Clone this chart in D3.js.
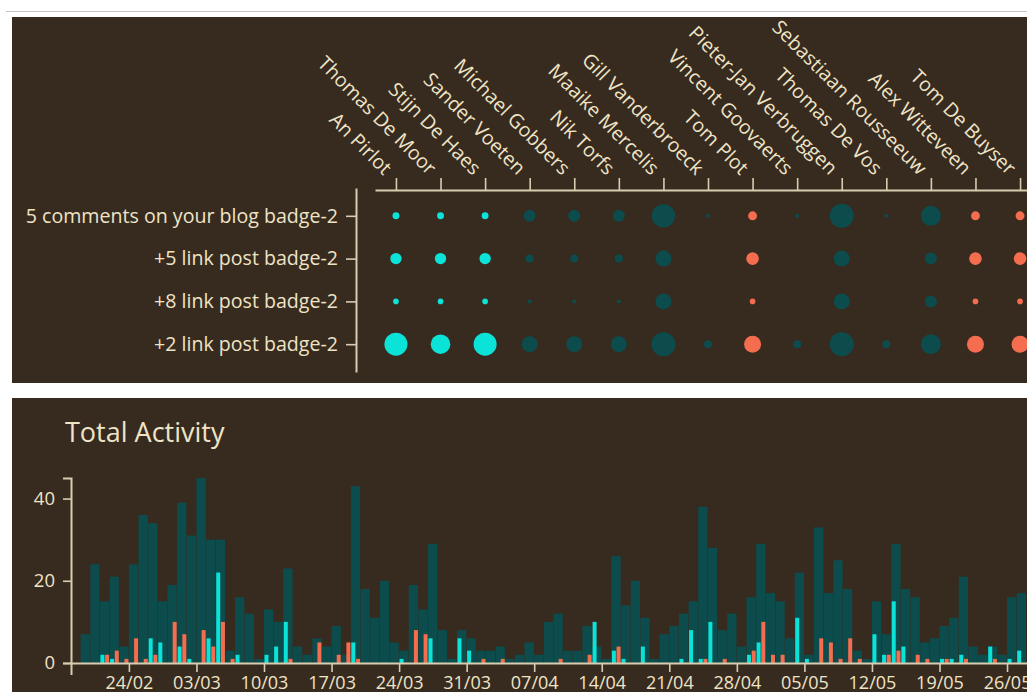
<!DOCTYPE html>
<html><head><meta charset="utf-8">
<script src="https://cdn.jsdelivr.net/npm/d3@7"></script>
<style>
html,body{margin:0;padding:0;background:#fff;overflow:hidden;}
svg{position:absolute;left:0;top:0;}
text{font-family:"Open Sans",sans-serif;}
</style></head><body>
<svg id="chart" width="1100" height="695"></svg>
<script>
// ---------- data ----------
const people = ["An Pirlot","Thomas De Moor","Stijn De Haes","Sander Voeten","Michael Gobbers","Nik Torfs",
  "Maaike Mercelis","Gill Vanderbroeck","Tom Plot","Vincent Goovaerts","Pieter-Jan Verbruggen",
  "Thomas De Vos","Sebastiaan Rousseeuw","Alex Witteveen","Tom De Buyser"];
const badges = ["5 comments on your blog badge-2","+5 link post badge-2","+8 link post badge-2","+2 link post badge-2"];
const badgeComments5 = [3,3,3,9,9,9,34,1,5,1,36,1,25,5,5];
const badgeLink5     = [8,8,8,4,4,4,16,0,10,0,16,0,9,10,10];
const badgeLink8     = [2,2,2,1,1,1,16,0,2,0,16,0,9,2,2];
const badgeLink2     = [33,24,33,16,16,16,36,4,18,4,36,4,25,18,18];
const badgeCounts = [badgeComments5, badgeLink5, badgeLink8, badgeLink2];
const teamCyan = ["An Pirlot","Thomas De Moor","Stijn De Haes"];
const teamSalmon = ["Tom Plot","Alex Witteveen","Tom De Buyser"];

const firstDay = "2013-02-19";
const totalActivity = [7,24,15,21,4,24,36,34,15,19,39,31,45,30,30,3,16,12,1,13,10,23,4,2,6,4,9,2,43,18,
  11,20,5,3,19,13,29,8,1,8,6,3,3,4,1,2,5,2,10,12,3,3,9,4,1,26,14,20,11,1,
  7,9,12,15,38,28,8,12,4,16,29,17,15,6,22,2,33,17,25,18,3,1,15,7,29,18,16,5,6,9,
  11,21,4,2,4,2,16,17];
const cyanActivity = [0,0,2,1,0,0,0,6,5,0,4,1,0,6,22,0,2,0,0,2,4,10,0,0,0,0,0,0,5,0,
  0,0,0,1,0,0,6,0,0,6,3,0,0,0,0,0,0,0,0,0,0,0,0,10,0,3,1,0,4,0,
  0,0,1,8,1,10,0,0,0,2,5,0,0,0,11,1,0,0,0,0,0,0,7,2,15,4,0,0,0,1,
  1,2,0,0,4,0,1,3];
const salmonActivity = [0,0,2,3,1,6,1,2,0,10,7,0,8,4,10,1,0,0,0,0,0,1,0,0,5,0,2,5,1,0,
  0,0,0,0,8,7,0,0,0,0,0,1,0,1,0,0,0,0,0,1,0,0,2,0,0,4,0,0,0,0,
  0,0,0,0,1,0,1,0,0,3,10,2,2,0,0,0,6,5,1,6,1,0,0,2,3,0,2,1,0,1,
  0,1,0,0,1,0,0,0];
const activityTicks = [0,20,40];
const axisStart = "2013-02-18", axisEnd = "2013-06-03";

// ---------- style ----------
const BG = "#372a1f", TEAL = "#0c4c4d", CYAN = "#0ce3d8", SALMON = "#f56d4f", CREAM = "#efe4c6", AX = "#d8cdb0";

const svg = d3.select("#chart");
svg.append("line").attr("x1",6).attr("x2",1100).attr("y1",11.5).attr("y2",11.5).attr("stroke","#c4c4c4");
svg.append("rect").attr("x",12).attr("y",17).attr("width",1100).attr("height",366).attr("fill",BG);
svg.append("rect").attr("x",12).attr("y",398).attr("width",1100).attr("height",294).attr("fill",BG);

function styleAxis(g, fs){
  g.select(".domain").attr("stroke",AX).attr("stroke-width",2);
  g.selectAll(".tick line").attr("stroke",AX).attr("stroke-width",1.6);
  g.selectAll(".tick text").attr("fill",CREAM).attr("font-size",fs).attr("font-family","'Open Sans',sans-serif");
}

// ---------- top: badge matrix ----------
const xP = d3.scalePoint().domain(people).range([375,1041]).padding(0.47);
const yB = d3.scalePoint().domain(badges).range([188,372]).padding(0.65);
const r = d3.scaleSqrt().domain([0,36]).range([0,12]);
const colorOf = p => teamCyan.includes(p) ? CYAN : teamSalmon.includes(p) ? SALMON : TEAL;

const gx = svg.append("g").attr("transform","translate(0,190)")
  .call(d3.axisTop(xP).tickSize(12).tickSizeOuter(0).tickPadding(0));
styleAxis(gx, 19.6);
gx.selectAll(".tick text").attr("text-anchor","end").attr("dy",0)
  .attr("transform","translate(-13,-14) rotate(45)").attr("y",0);

const gy = svg.append("g").attr("transform","translate(356,0)")
  .call(d3.axisLeft(yB).tickSize(10).tickSizeOuter(0).tickPadding(8));
styleAxis(gy, 19.6);

const cells = [];
badges.forEach((b,i)=>people.forEach((p,j)=>cells.push({b,p,v:badgeCounts[i][j]})));
svg.append("g").selectAll("circle").data(cells.filter(d=>d.v>0)).join("circle")
  .attr("cx",d=>xP(d.p)).attr("cy",d=>yB(d.b)).attr("r",d=>r(d.v)).attr("fill",d=>colorOf(d.p));

// ---------- bottom: total activity ----------
const clip = svg.append("clipPath").attr("id","bclip");
clip.append("rect").attr("x",12).attr("y",398).attr("width",1100).attr("height",294);
const gb = svg.append("g").attr("clip-path","url(#bclip)");

gb.append("text").attr("x",65).attr("y",442).attr("fill",CREAM).attr("font-size",27).text("Total Activity");

const parse = d3.utcParse("%Y-%m-%d");
const d0 = parse(firstDay);
const days = totalActivity.map((t,i)=>({date:d3.utcDay.offset(d0,i), total:t, cyan:cyanActivity[i], salmon:salmonActivity[i]}));
const x = d3.scaleUtc().domain([parse(axisStart), parse(axisEnd)]).range([71, 71+105*9.65]);
const y = d3.scaleLinear().domain([0, d3.max(totalActivity)]).range([663,478]);
const w = d => x(d3.utcDay.offset(d.date,1)) - x(d.date);
const sub = d3.scaleBand().domain(["cyan","salmon"]).paddingInner(0.15).paddingOuter(0.1);

gb.append("g").selectAll("rect").data(days).join("rect")
  .attr("x",d=>x(d.date)).attr("width",d=>w(d)-0.4)
  .attr("y",d=>y(d.total)).attr("height",d=>y(0)-y(d.total)).attr("fill",TEAL);
["cyan","salmon"].forEach(k=>{
  gb.append("g").selectAll("rect").data(days.filter(d=>d[k]>0)).join("rect")
    .attr("x",d=>x(d.date)+sub.range([0,w(d)])(k)).attr("width",d=>sub.range([0,w(d)]).bandwidth())
    .attr("y",d=>y(d[k])).attr("height",d=>y(0)-y(d[k])).attr("fill",k==="cyan"?CYAN:SALMON);
});

const ya = gb.append("g").attr("transform","translate(71,0)")
  .call(d3.axisLeft(y).tickValues(activityTicks).tickSize(8).tickSizeOuter(8).tickPadding(8));
styleAxis(ya, 18.5);
const xa = gb.append("g").attr("transform","translate(0,663)")
  .call(d3.axisBottom(x).ticks(d3.utcWeek.every(1)).tickFormat(d3.utcFormat("%d/%m")).tickSize(9).tickSizeOuter(12).tickPadding(4));
styleAxis(xa, 18);
</script>
</body></html>
